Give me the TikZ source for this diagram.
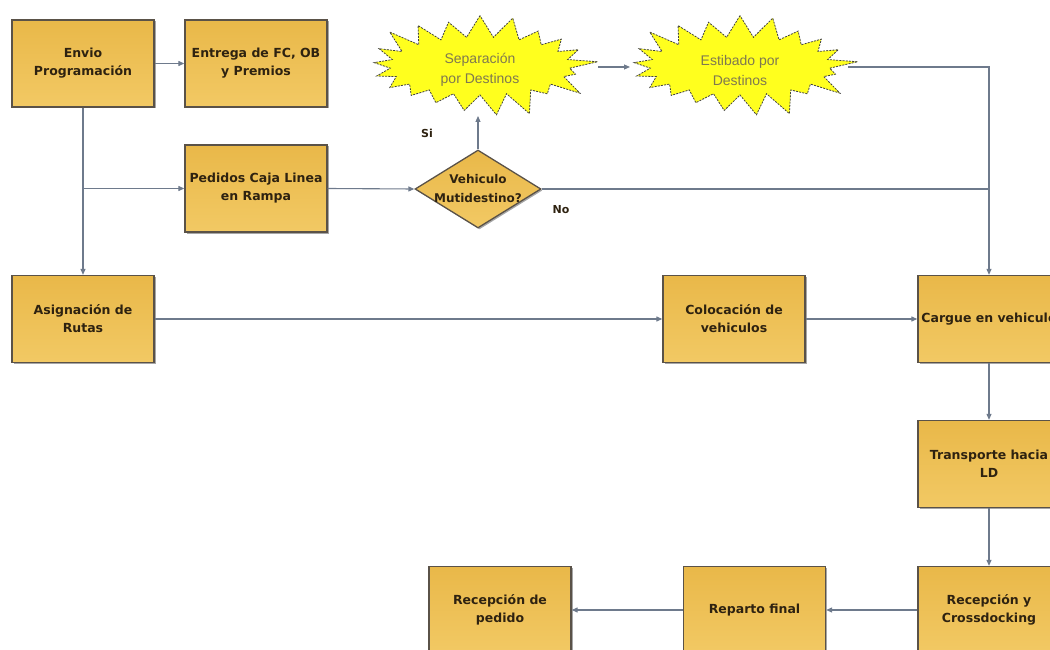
\documentclass[tikz,border=0pt]{standalone}
\usepackage{fontspec}
\setmainfont{DejaVu Sans}
\newfontfamily\starfont{Liberation Sans}
\usetikzlibrary{shapes.geometric,shapes.symbols,arrows.meta,shadows}
\definecolor{boxtop}{HTML}{E9B849}
\definecolor{boxbot}{HTML}{F2C964}
\definecolor{boxedge}{HTML}{5A5248}
\definecolor{boxtext}{HTML}{2E2210}
\definecolor{linec}{HTML}{6E7A8C}
\definecolor{burstyellow}{HTML}{FFFF1E}
\definecolor{startext}{HTML}{7F7850}
\begin{document}
\begin{tikzpicture}[x=1pt,y=-1pt,
  procbox/.style={rectangle, draw=boxedge, line width=1.3pt, top color=boxtop, bottom color=boxbot,
    minimum width=142pt, minimum height=87pt, inner sep=2pt, align=center,
    font=\bfseries\fontsize{12.5}{18}\selectfont, text=boxtext,
    drop shadow={shadow xshift=1.5pt, shadow yshift=-1.5pt, opacity=0.35, fill=black}},
  conn/.style={draw=linec, line width=1.1pt, -{Triangle[length=6pt,width=5pt]}},
  plain/.style={draw=linec, line width=1.1pt},
  burst/.style={starburst, starburst points=21, starburst point height=28pt, random starburst=57,
    fill=burstyellow, draw=black!75, dash pattern=on 2pt off 1.2pt, line width=0.8pt,
    minimum width=236pt, minimum height=114pt, inner sep=0pt},
  bursttext/.style={align=center, font=\starfont\fontsize{14}{20}\selectfont, text=startext, inner sep=0pt},
  lbl/.style={font=\bfseries\fontsize{11}{13}\selectfont, text=boxtext}
]
\path[use as bounding box] (0,0) rectangle (1050,650);
\clip (0,0) rectangle (1050,650);

% boxes
\node[procbox] (envio) at (83,63.5) {Envio\\Programación};
\node[procbox] (entrega) at (256,63.5) {Entrega de FC, OB\\y Premios};
\node[procbox] (pedidos) at (256,188.5) {Pedidos Caja Linea\\en Rampa};
\node[procbox] (asig) at (83,319) {Asignación de\\Rutas};
\node[procbox] (coloc) at (734,319) {Colocación de\\vehiculos};
\node[procbox] (cargue) at (989,319) {Cargue en vehiculo};
\node[procbox] (transp) at (989,464) {Transporte hacia\\LD};
\node[procbox] (recep) at (989,610) {Recepción y\\Crossdocking};
\node[procbox] (reparto) at (754.5,610) {Reparto final};
\node[procbox] (recped) at (500,610) {Recepción de\\pedido};

% decision
\node[diamond, draw=boxedge, line width=1.3pt, top color=boxtop, bottom color=boxbot,
  minimum width=126pt, minimum height=78pt, inner sep=0pt,
  drop shadow={shadow xshift=1.5pt, shadow yshift=-1.5pt, opacity=0.35, fill=black}] (dia) at (478,189) {};
\node[align=center, font=\bfseries\fontsize{12}{19}\selectfont, text=boxtext] (diatext) at (dia.center) {Vehiculo\\Mutidestino?};

% starbursts
\node[burst] (s1) at (480,66) {};
\node[bursttext] (s1t) at (480,70) {Separación\\por Destinos};
\node[burst] (s2) at (740,66) {};
\node[bursttext] (s2t) at (740,70) {Estibado por\\Destinos};

% helper coordinates
\coordinate (s1out) at (598,67);
\coordinate (s2in) at (630,67);
\coordinate (s2out) at (848,67);
\coordinate (s1bot) at (478,116);
\coordinate (branch) at (83,188.5);

% connectors
\draw[conn] (envio.east) -- (entrega.west);
\draw[conn] (envio.south) -- (asig.north);
\draw[conn] (branch) -- (pedidos.west);
\draw[conn] (pedidos.east) -- (dia.west);
\draw[conn] (dia.north) -- (s1bot);
\draw[conn] (s1out) -- (s2in);
\draw[conn] (s2out) -| (cargue.north);
\draw[plain] (dia.east) -- (dia.east -| cargue.north);
\draw[conn] (asig.east) -- (coloc.west);
\draw[conn] (coloc.east) -- (cargue.west);
\draw[conn] (cargue.south) -- (transp.north);
\draw[conn] (transp.south) -- (recep.north);
\draw[conn] (recep.west) -- (reparto.east);
\draw[conn] (reparto.west) -- (recped.east);

% labels
\node[lbl] (si) at (427,133) {Si};
\node[lbl] (no) at (561,210) {No};
\end{tikzpicture}
\end{document}
